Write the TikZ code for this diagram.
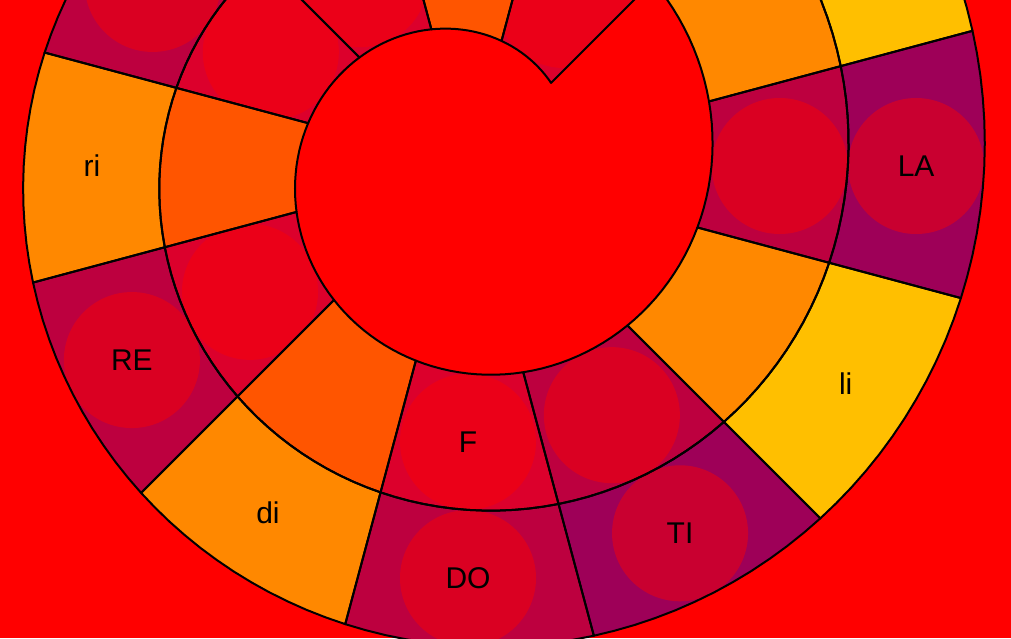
\documentclass[tikz,border=0pt]{standalone}
\usepackage{fontspec}
\setmainfont{Liberation Sans}
\definecolor{wheelred}{HTML}{FF0000}
\definecolor{crimson}{HTML}{BD003F}
\definecolor{plum}{HTML}{9E0058}
\definecolor{scarlet}{HTML}{DC002C}
\definecolor{amber}{HTML}{FF8800}
\definecolor{vermilion}{HTML}{FF5500}
\definecolor{gold}{HTML}{FFBF00}
\newcommand\wedgelist{45/0/scarlet/1, 75/0/vermilion/0, 105/0/scarlet/1, 135/0/scarlet/1, 165/0/vermilion/0, 195/0/scarlet/1, 225/0/vermilion/0, 255/0/scarlet/1, 285/0/crimson/1, 315/0/amber/0, 345/0/crimson/1, 375/0/amber/0, 135/1/crimson/1, 165/1/amber/0, 195/1/crimson/1, 225/1/amber/0, 255/1/crimson/1, 285/1/plum/1, 315/1/gold/0, 345/1/plum/1, 375/1/gold/0}

\begin{document}
\begin{tikzpicture}[x=0.5pt, y=0.5pt, every node/.style={font=\fontsize{15}{18}\selectfont},
	declare function={rr(\ang,\ring)=99.5+136.4*\ring+0.4*\ang;}]
	\useasboundingbox (-468,-472) rectangle (543,166);
	\fill[wheelred] (-468,-472) rectangle (543,166);
	\clip (-468,-472) rectangle (543,166);
	\foreach \a/\j/\col/\o [evaluate=\a as \b using int(\a+30), evaluate=\j as \jj using int(\j+1)] in \wedgelist {
		\fill[\col] plot[domain=\a:\b, samples=13] (\x:{rr(\x,\j)}) -- plot[domain=\b:\a, samples=13] (\x:{rr(\x,\jj)}) -- cycle;
		\ifnum\o=1
		\begin{scope}
			\clip plot[domain=\a:\b, samples=13] (\x:{rr(\x,\j)}) -- plot[domain=\b:\a, samples=13] (\x:{rr(\x,\jj)}) -- cycle;
			\fill[wheelred, opacity=0.45] ({\a+15}:{rr(\a+15,\j)+68.2}) circle (68);
		\end{scope}
		\fi
	}
	\foreach \a/\j/\col/\o [evaluate=\a as \b using int(\a+30), evaluate=\j as \jj using int(\j+1)] in \wedgelist {
		\draw[line width=1pt, line join=round] plot[domain=\a:\b, samples=13] (\x:{rr(\x,\j)}) -- plot[domain=\b:\a, samples=13] (\x:{rr(\x,\jj)}) -- cycle;
	}
	\foreach \a/\j/\nm in {270/1/DO, 240/1/di, 210/1/RE, 180/1/ri, 360/1/LA, 330/1/li, 300/1/TI, 270/0/F}
		\node (n\nm) at (\a:{rr(\a,\j)+68.2}) {\nm};
\end{tikzpicture}
\end{document}
